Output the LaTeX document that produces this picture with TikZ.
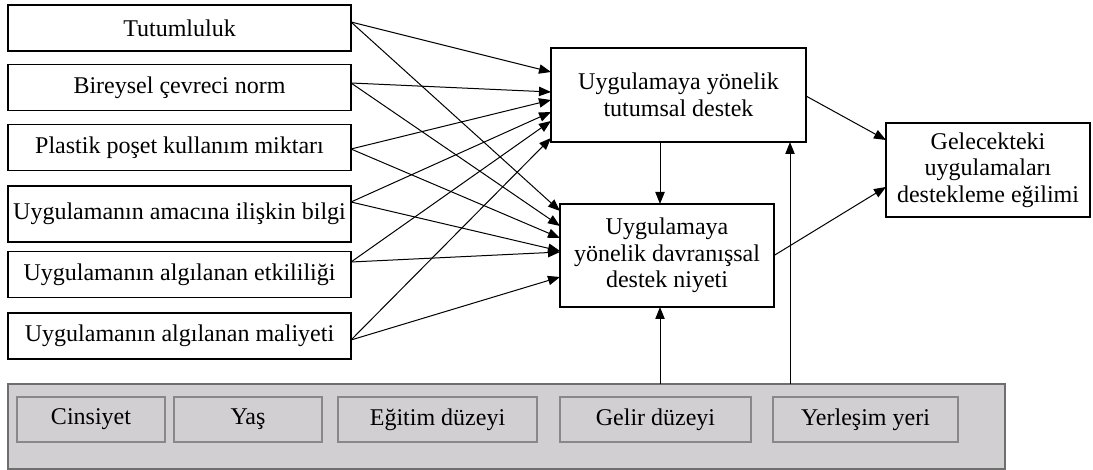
\documentclass[tikz,border=0pt]{standalone}
\usepackage{fontspec}
\setmainfont{Liberation Serif}
\usetikzlibrary{arrows.meta,calc}
\definecolor{panelfill}{HTML}{D1CFD1}
\definecolor{paneledge}{HTML}{6E6E6E}
\definecolor{itemedge}{HTML}{888888}
\begin{document}
\begin{tikzpicture}[x=0.75pt,y=-0.75pt,
  every node/.style={font=\fontsize{18}{20}\selectfont, inner sep=0pt, outer sep=0pt},
  lbox/.style={draw=black, line width=1.1pt, fill=white, minimum width=257.25pt, minimum height=34.5pt},
  mbox/.style={draw=black, line width=1.1pt, fill=white, align=center},
  panel/.style={draw=paneledge, line width=1.5pt, fill=panelfill},
  item/.style={draw=itemedge, line width=1.8pt, fill=panelfill, minimum height=33.75pt},
  arr/.style={line width=0.75pt, -{Triangle[length=9pt,width=7pt]}}
]
\useasboundingbox (0,0) rectangle (1093,470);

% left boxes
\node[lbox] (tut) at (179.5,28) {Tutumluluk};
\node[lbox] (bir) at (179.5,87.5) {Bireysel çevreci norm};
\node[lbox] (pla) at (179.5,147.5) {Plastik poşet kullanım miktarı};
\node[lbox, minimum height=42pt] (ama) at (179.5,214) {\raisebox{1.5pt}{Uygulamanın amacına ilişkin bilgi}};
\node[lbox] (etk) at (179.5,274.5) {Uygulamanın algılanan etkililiği};
\node[lbox] (mal) at (179.5,336) {Uygulamanın algılanan maliyeti};

% middle and right boxes
\node[mbox, minimum width=191.25pt, minimum height=70.5pt] (att) at (678.5,95)
  {Uygulamaya yönelik\\tutumsal destek};
\node[mbox, minimum width=160.5pt, minimum height=77.25pt] (beh) at (667,255.5)
  {Uygulamaya\\yönelik davranışsal\hspace*{14pt}\\destek niyeti};
\node[mbox, minimum width=153pt, minimum height=70.5pt] (fut) at (988,170)
  {Gelecekteki\\uygulamaları\\destekleme eğilimi};

% bottom panel
\node[panel, minimum width=747.75pt, minimum height=63.75pt] (gray) at (506.5,426.5) {};
\node[item, minimum width=111pt] (cin) at (91,419.5) {\raisebox{-2pt}{Cinsiyet}};
\node[item, minimum width=111pt] (yas) at (248,419.5) {\raisebox{-2pt}{Yaş}};
\node[item, minimum width=149.25pt] (egi) at (437.5,419.5) {\raisebox{-2pt}{Eğitim düzeyi}};
\node[item, minimum width=143.25pt] (gel) at (655.5,419.5) {\raisebox{-2pt}{Gelir düzeyi}};
\node[item, minimum width=138.75pt] (yer) at (865.5,419.5) {\raisebox{-1pt}{Yerleşim yeri}};

% arrows to attitudinal support
\draw[arr] ($(tut.east)+(0,-6)$)   -- ($(att.west)+(0,-23)$);
\draw[arr] ($(bir.east)+(0,-4.5)$) -- ($(att.west)+(0,-3)$);
\draw[arr] ($(pla.east)+(0,1.5)$)  -- ($(att.west)+(0,5)$);
\draw[arr] ($(ama.east)+(0,-12)$)  -- ($(att.west)+(0,17)$);
\draw[arr] ($(etk.east)+(0,-12.5)$) -- ($(att.west)+(0,26)$);
\draw[arr] ($(mal.east)+(0,4)$)    -- ($(att.west)+(0,43)$);

% arrows to behavioural intention
\draw[arr] ($(tut.east)+(0,-6)$)   -- ($(beh.west)+(0,-44.5)$);
\draw[arr] ($(bir.east)+(0,-4.5)$) -- ($(beh.west)+(0,-29.5)$);
\draw[arr] ($(pla.east)+(0,1.5)$)  -- ($(beh.west)+(0,-17.5)$);
\draw[arr] ($(ama.east)+(0,-12)$)  -- ($(beh.west)+(0,-4.5)$);
\draw[arr] ($(etk.east)+(0,-12.5)$) -- ($(beh.west)+(0,-3.5)$);
\draw[arr] ($(mal.east)+(0,4)$)    -- ($(beh.west)+(0,21.5)$);

% internal arrows
\draw[arr] ($(att.south)+(-18.5,0)$) -- ($(beh.north)+(-7,0)$);
\draw[arr] ($(gray.north)+(153.5,0)$) -- ($(beh.south)+(-7,0)$);
\draw[arr] ($(gray.north)+(283.5,0)$) -- ($(att.south)+(111.5,0)$);
\draw[arr] ($(att.east)+(0,1)$) -- ($(fut.west)+(0,-30)$);
\draw[arr] (beh.east) -- ($(fut.west)+(0,17)$);
\end{tikzpicture}
\end{document}
